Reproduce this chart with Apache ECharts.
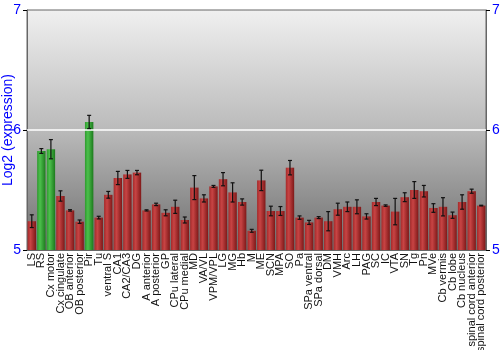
<!DOCTYPE html>
<html>
<head>
<meta charset="utf-8">
<script src="https://cdn.jsdelivr.net/npm/echarts@6/dist/echarts.min.js"></script>
<style>html,body{margin:0;padding:0;background:#fff;}#c{width:500px;height:350px;}</style>
</head>
<body>
<div id="c"></div>
<script>
var categories = ["LS","RS","Cx motor","Cx cingulate","OB anterior","OB posterior","Pir","Tu","ventral S","CA1","CA2/CA3","DG","A anterior","A posterior","GP","CPu lateral","CPu medial","MD","VA/VL","VPM/VPL","LG","MG","Hb","M","ME","SCN","MPA","SO","Pa","SPa ventral","SPa dorsal","DM","VMH","Arc","LH","PAG","SC","IC","VTA","SN","Tg","Pn","MVe","Cb vermis","Cb lobe","Cb nucleus","spinal cord anterior","spinal cord posterior"];
var values = [5.24,5.825,5.84,5.45,5.33,5.236,6.067,5.27,5.46,5.60,5.63,5.645,5.33,5.38,5.31,5.36,5.25,5.52,5.43,5.53,5.59,5.48,5.40,5.16,5.58,5.325,5.325,5.686,5.27,5.23,5.27,5.24,5.34,5.36,5.36,5.28,5.40,5.37,5.32,5.44,5.50,5.49,5.35,5.36,5.29,5.40,5.49,5.37];
var errors = [0.053,0.02,0.08,0.043,0.006,0.014,0.055,0.011,0.028,0.055,0.033,0.018,0.005,0.01,0.025,0.055,0.025,0.1,0.03,0.008,0.055,0.08,0.026,0.012,0.085,0.04,0.037,0.06,0.014,0.017,0.008,0.08,0.05,0.04,0.058,0.022,0.03,0.006,0.11,0.037,0.07,0.048,0.036,0.076,0.026,0.06,0.017,0.003];
var greenCategories = ["RS","Cx motor","Pir"];
var yTicks = [5,6,7];

var redGrad = new echarts.graphic.LinearGradient(0,0,1,0,[{offset:0,color:'#a52a2a'},{offset:0.35,color:'#c84444'},{offset:1,color:'#7e1818'}]);
var greenGrad = new echarts.graphic.LinearGradient(0,0,1,0,[{offset:0,color:'#2f9a2f'},{offset:0.35,color:'#4cc04c'},{offset:1,color:'#1d7a1d'}]);

var barData = values.map(function(v,i){
  return {value:v, itemStyle:{color: greenCategories.indexOf(categories[i])>=0 ? greenGrad : redGrad}};
});
var errData = values.map(function(v,i){ return [i, v-errors[i], v+errors[i]]; });

var chart = echarts.init(document.getElementById('c'));
var axisLabelY = {color:'#0000ff', fontSize:14, fontFamily:'Liberation Sans, Arial, sans-serif'};
chart.setOption({
  animation:false,
  grid:{left:27,right:14,top:10,bottom:100,show:true,borderColor:'#666',borderWidth:1,
    outerBoundsMode:'none',containLabel:false,
    backgroundColor:new echarts.graphic.LinearGradient(0,0,0,1,[{offset:0,color:'#f0f0f0'},{offset:0.5,color:'#bababa'},{offset:1,color:'#6e6e6e'}])},
  xAxis:{type:'category',data:categories,
    axisLine:{lineStyle:{color:'#666'}},axisTick:{show:false},
    axisLabel:{rotate:90,interval:0,fontSize:11,color:'#111',margin:3,fontFamily:'Liberation Sans, Arial, sans-serif'}},
  yAxis:[
    {type:'value',min:yTicks[0],max:yTicks[yTicks.length-1],interval:1,
     name:'Log2 (expression)',nameLocation:'middle',nameGap:12,nameMoveOverlap:false,
     nameTextStyle:{color:'#0000ff',fontSize:14,fontFamily:'Liberation Sans, Arial, sans-serif'},
     axisLine:{show:true,lineStyle:{color:'#666'}},axisTick:{show:true,length:4,lineStyle:{color:'#000'}},
     axisLabel:Object.assign({margin:6},axisLabelY),splitLine:{show:false}},
    {type:'value',min:yTicks[0],max:yTicks[yTicks.length-1],interval:1,position:'right',
     axisLine:{show:true,lineStyle:{color:'#666'}},axisTick:{show:true,length:4,lineStyle:{color:'#000'}},
     axisLabel:Object.assign({margin:6},axisLabelY),splitLine:{show:false}}
  ],
  series:[
    {type:'bar',data:barData,barCategoryGap:'12%',
     markLine:{silent:true,symbol:'none',label:{show:false},lineStyle:{color:'#ffffff',type:'solid',width:1.5},data:[{yAxis:6}]}},
    {type:'custom',data:errData,z:5,
     renderItem:function(params,api){
       var x=api.value(0);
       var lo=api.coord([x,api.value(1)]);
       var hi=api.coord([x,api.value(2)]);
       var w=2;
       var st={stroke:'#111',lineWidth:1.2};
       return {type:'group',children:[
         {type:'line',shape:{x1:lo[0],y1:lo[1],x2:hi[0],y2:hi[1]},style:st},
         {type:'line',shape:{x1:lo[0]-w,y1:lo[1],x2:lo[0]+w,y2:lo[1]},style:st},
         {type:'line',shape:{x1:hi[0]-w,y1:hi[1],x2:hi[0]+w,y2:hi[1]},style:st}
       ]};
     }}
  ]
});
</script>
</body>
</html>
